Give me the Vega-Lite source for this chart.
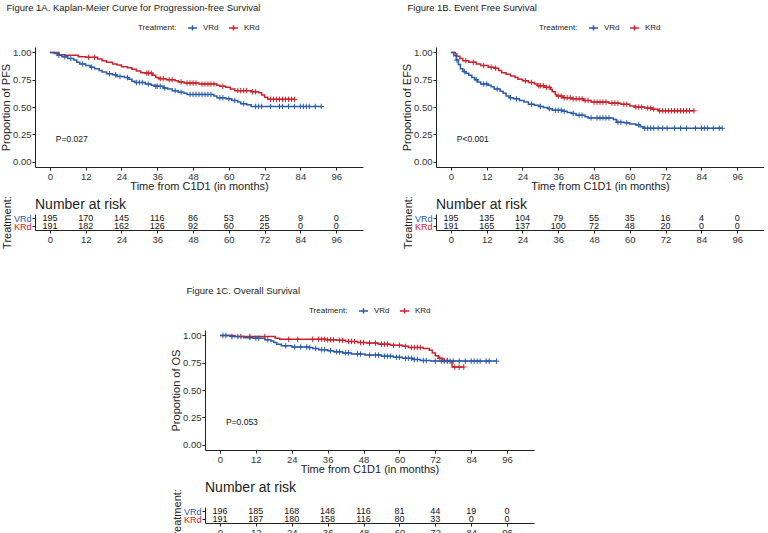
{
 "$schema": "https://vega.github.io/schema/vega-lite/v6.json",
 "padding": {"left": 0, "top": 2, "right": 0, "bottom": 0},
 "config": {
  "font": "Liberation Sans",
  "view": {"stroke": null},
  "axis": {"grid": false, "domainColor": "#222", "tickColor": "#222", "labelColor": "#333", "titleColor": "#222", "labelFontSize": 9.5, "titleFontSize": 11, "titleFontWeight": "normal", "tickSize": 3, "labelPadding": 1, "titlePadding": 1},
  "axisX": {"titlePadding": 0},
  "legend": {"orient": "top", "direction": "horizontal", "titleOrient": "left", "labelFontSize": 8, "titleFontSize": 8, "titleFontWeight": "normal", "titleColor": "#222", "labelColor": "#222", "symbolType": "M-1,0L1,0M0,-0.6L0,0.6", "symbolStrokeWidth": 1.5, "symbolSize": 81, "offset": 13, "titlePadding": 10, "labelOffset": 5, "columnPadding": 7, "layout": {"top": {"anchor": "middle"}}},
  "title": {"fontSize": 9.5, "fontWeight": "normal", "anchor": "start", "color": "#222", "offset": 10}
 },
 "datasets": {
  "pfs": [
   {"t":0,"s":1,"g":"KRd","c":0},{"t":3,"s":0.98,"g":"KRd","c":0},{"t":5,"s":0.975,"g":"KRd","c":0},{"t":9.5,"s":0.96,"g":"KRd","c":0},{"t":12,"s":0.955,"g":"KRd","c":0},{"t":13,"s":0.955,"g":"KRd","c":1},{"t":15,"s":0.955,"g":"KRd","c":1},
   {"t":16,"s":0.94,"g":"KRd","c":0},{"t":17.5,"s":0.925,"g":"KRd","c":0},{"t":19,"s":0.91,"g":"KRd","c":0},{"t":21,"s":0.895,"g":"KRd","c":0},{"t":22.5,"s":0.885,"g":"KRd","c":0},{"t":24,"s":0.87,"g":"KRd","c":0},{"t":26,"s":0.86,"g":"KRd","c":0},{"t":27.5,"s":0.845,"g":"KRd","c":0},{"t":29,"s":0.83,"g":"KRd","c":0},{"t":30.5,"s":0.815,"g":"KRd","c":0},
   {"t":32,"s":0.81,"g":"KRd","c":0},{"t":32.5,"s":0.81,"g":"KRd","c":1},{"t":33,"s":0.81,"g":"KRd","c":1},{"t":34,"s":0.81,"g":"KRd","c":1},{"t":34.5,"s":0.79,"g":"KRd","c":0},{"t":35.5,"s":0.77,"g":"KRd","c":0},{"t":36.5,"s":0.76,"g":"KRd","c":0},{"t":37,"s":0.76,"g":"KRd","c":1},{"t":38,"s":0.76,"g":"KRd","c":1},
   {"t":39,"s":0.75,"g":"KRd","c":0},{"t":40,"s":0.75,"g":"KRd","c":1},{"t":41,"s":0.75,"g":"KRd","c":1},{"t":42,"s":0.74,"g":"KRd","c":0},{"t":43,"s":0.73,"g":"KRd","c":0},{"t":44,"s":0.73,"g":"KRd","c":1},{"t":45,"s":0.72,"g":"KRd","c":0},{"t":46,"s":0.72,"g":"KRd","c":1},{"t":47,"s":0.72,"g":"KRd","c":1},{"t":48,"s":0.72,"g":"KRd","c":1},{"t":49,"s":0.72,"g":"KRd","c":1},
   {"t":50,"s":0.71,"g":"KRd","c":0},{"t":51,"s":0.71,"g":"KRd","c":1},{"t":52,"s":0.71,"g":"KRd","c":1},{"t":53,"s":0.71,"g":"KRd","c":1},{"t":54,"s":0.71,"g":"KRd","c":1},{"t":55,"s":0.71,"g":"KRd","c":1},{"t":56,"s":0.7,"g":"KRd","c":0},{"t":57,"s":0.69,"g":"KRd","c":0},{"t":58,"s":0.69,"g":"KRd","c":1},{"t":59,"s":0.68,"g":"KRd","c":0},{"t":60.5,"s":0.665,"g":"KRd","c":0},
   {"t":62,"s":0.65,"g":"KRd","c":0},{"t":63,"s":0.65,"g":"KRd","c":1},{"t":64,"s":0.65,"g":"KRd","c":1},{"t":65,"s":0.65,"g":"KRd","c":1},{"t":66,"s":0.65,"g":"KRd","c":1},{"t":67.5,"s":0.64,"g":"KRd","c":0},{"t":68,"s":0.64,"g":"KRd","c":1},{"t":69,"s":0.64,"g":"KRd","c":1},{"t":70,"s":0.63,"g":"KRd","c":0},{"t":71,"s":0.61,"g":"KRd","c":0},{"t":72,"s":0.59,"g":"KRd","c":0},
   {"t":73,"s":0.57,"g":"KRd","c":0},{"t":74,"s":0.57,"g":"KRd","c":1},{"t":75,"s":0.57,"g":"KRd","c":1},{"t":76,"s":0.57,"g":"KRd","c":1},{"t":77,"s":0.57,"g":"KRd","c":1},{"t":78,"s":0.57,"g":"KRd","c":1},{"t":79,"s":0.57,"g":"KRd","c":1},{"t":80,"s":0.57,"g":"KRd","c":1},{"t":81,"s":0.57,"g":"KRd","c":1},{"t":82,"s":0.57,"g":"KRd","c":1},
   {"t":0,"s":1,"g":"VRd","c":0},{"t":1.5,"s":0.99,"g":"VRd","c":0},{"t":2.5,"s":0.975,"g":"VRd","c":0},{"t":3,"s":0.975,"g":"VRd","c":1},{"t":4,"s":0.96,"g":"VRd","c":0},{"t":5,"s":0.96,"g":"VRd","c":1},{"t":6,"s":0.945,"g":"VRd","c":0},{"t":7,"s":0.945,"g":"VRd","c":1},{"t":8,"s":0.93,"g":"VRd","c":0},{"t":9,"s":0.91,"g":"VRd","c":0},{"t":10,"s":0.895,"g":"VRd","c":0},{"t":11,"s":0.895,"g":"VRd","c":1},
   {"t":12,"s":0.88,"g":"VRd","c":0},{"t":13.5,"s":0.865,"g":"VRd","c":0},{"t":14,"s":0.865,"g":"VRd","c":1},{"t":15,"s":0.85,"g":"VRd","c":0},{"t":16.5,"s":0.835,"g":"VRd","c":0},{"t":17.5,"s":0.82,"g":"VRd","c":0},{"t":19,"s":0.805,"g":"VRd","c":0},{"t":20,"s":0.805,"g":"VRd","c":1},{"t":21,"s":0.795,"g":"VRd","c":0},{"t":22,"s":0.795,"g":"VRd","c":1},
   {"t":22.5,"s":0.78,"g":"VRd","c":0},{"t":23.5,"s":0.78,"g":"VRd","c":1},{"t":25,"s":0.77,"g":"VRd","c":0},{"t":26,"s":0.77,"g":"VRd","c":1},{"t":26.5,"s":0.755,"g":"VRd","c":0},{"t":27.5,"s":0.735,"g":"VRd","c":0},{"t":28.5,"s":0.725,"g":"VRd","c":0},{"t":29,"s":0.725,"g":"VRd","c":1},{"t":30,"s":0.725,"g":"VRd","c":1},{"t":31,"s":0.725,"g":"VRd","c":1},
   {"t":32,"s":0.71,"g":"VRd","c":0},{"t":33,"s":0.71,"g":"VRd","c":1},{"t":34,"s":0.7,"g":"VRd","c":0},{"t":35,"s":0.69,"g":"VRd","c":0},{"t":35.5,"s":0.69,"g":"VRd","c":1},{"t":36,"s":0.69,"g":"VRd","c":1},{"t":37,"s":0.69,"g":"VRd","c":1},{"t":38,"s":0.675,"g":"VRd","c":0},{"t":38.5,"s":0.675,"g":"VRd","c":1},{"t":39.5,"s":0.665,"g":"VRd","c":0},
   {"t":41,"s":0.65,"g":"VRd","c":0},{"t":42,"s":0.65,"g":"VRd","c":1},{"t":43,"s":0.635,"g":"VRd","c":0},{"t":44,"s":0.635,"g":"VRd","c":1},{"t":45,"s":0.625,"g":"VRd","c":0},{"t":46,"s":0.615,"g":"VRd","c":0},{"t":47,"s":0.615,"g":"VRd","c":1},{"t":48,"s":0.615,"g":"VRd","c":1},{"t":49,"s":0.615,"g":"VRd","c":1},{"t":50,"s":0.615,"g":"VRd","c":1},{"t":51,"s":0.615,"g":"VRd","c":1},{"t":52,"s":0.615,"g":"VRd","c":1},{"t":53,"s":0.615,"g":"VRd","c":1},{"t":54,"s":0.615,"g":"VRd","c":1},
   {"t":55,"s":0.6,"g":"VRd","c":0},{"t":56,"s":0.585,"g":"VRd","c":0},{"t":57,"s":0.585,"g":"VRd","c":1},{"t":58,"s":0.585,"g":"VRd","c":1},{"t":59,"s":0.575,"g":"VRd","c":0},{"t":60,"s":0.575,"g":"VRd","c":1},{"t":61,"s":0.56,"g":"VRd","c":0},{"t":62,"s":0.56,"g":"VRd","c":1},{"t":63,"s":0.545,"g":"VRd","c":0},{"t":64,"s":0.53,"g":"VRd","c":0},{"t":65,"s":0.53,"g":"VRd","c":1},{"t":66,"s":0.52,"g":"VRd","c":0},
   {"t":67.5,"s":0.505,"g":"VRd","c":0},{"t":69,"s":0.505,"g":"VRd","c":1},{"t":70,"s":0.505,"g":"VRd","c":1},{"t":71,"s":0.505,"g":"VRd","c":1},{"t":74,"s":0.505,"g":"VRd","c":1},{"t":77,"s":0.505,"g":"VRd","c":1},{"t":78,"s":0.505,"g":"VRd","c":1},{"t":80,"s":0.505,"g":"VRd","c":1},{"t":82,"s":0.505,"g":"VRd","c":1},{"t":84,"s":0.505,"g":"VRd","c":1},{"t":85,"s":0.505,"g":"VRd","c":1},{"t":86,"s":0.505,"g":"VRd","c":1},{"t":87,"s":0.505,"g":"VRd","c":1},{"t":89,"s":0.505,"g":"VRd","c":1},{"t":91,"s":0.505,"g":"VRd","c":1}
  ],
  "efs": [
   {"t":0,"s":1,"g":"KRd","c":0},{"t":1.5,"s":0.985,"g":"KRd","c":0},{"t":2,"s":0.965,"g":"KRd","c":0},{"t":3,"s":0.945,"g":"KRd","c":0},{"t":4,"s":0.925,"g":"KRd","c":0},{"t":5,"s":0.925,"g":"KRd","c":1},{"t":6,"s":0.91,"g":"KRd","c":0},{"t":7.5,"s":0.91,"g":"KRd","c":1},{"t":8.5,"s":0.895,"g":"KRd","c":0},{"t":10,"s":0.88,"g":"KRd","c":0},{"t":11,"s":0.88,"g":"KRd","c":1},
   {"t":12.5,"s":0.865,"g":"KRd","c":0},{"t":13.5,"s":0.865,"g":"KRd","c":1},{"t":14.5,"s":0.855,"g":"KRd","c":0},{"t":15,"s":0.855,"g":"KRd","c":1},{"t":16,"s":0.835,"g":"KRd","c":0},{"t":17,"s":0.815,"g":"KRd","c":0},{"t":18.5,"s":0.8,"g":"KRd","c":0},{"t":20,"s":0.785,"g":"KRd","c":0},{"t":21.5,"s":0.77,"g":"KRd","c":0},{"t":22.5,"s":0.755,"g":"KRd","c":0},
   {"t":24,"s":0.74,"g":"KRd","c":0},{"t":25,"s":0.74,"g":"KRd","c":1},{"t":26,"s":0.725,"g":"KRd","c":0},{"t":27,"s":0.725,"g":"KRd","c":1},{"t":28,"s":0.71,"g":"KRd","c":0},{"t":29,"s":0.695,"g":"KRd","c":0},{"t":29.5,"s":0.695,"g":"KRd","c":1},{"t":30,"s":0.695,"g":"KRd","c":1},{"t":31,"s":0.695,"g":"KRd","c":1},{"t":31.5,"s":0.68,"g":"KRd","c":0},{"t":32,"s":0.68,"g":"KRd","c":1},{"t":33,"s":0.68,"g":"KRd","c":1},
   {"t":33.5,"s":0.66,"g":"KRd","c":0},{"t":34,"s":0.64,"g":"KRd","c":0},{"t":35,"s":0.615,"g":"KRd","c":0},{"t":35.5,"s":0.6,"g":"KRd","c":0},{"t":36,"s":0.6,"g":"KRd","c":1},{"t":37,"s":0.6,"g":"KRd","c":1},{"t":37.5,"s":0.585,"g":"KRd","c":0},{"t":38,"s":0.585,"g":"KRd","c":1},{"t":39,"s":0.585,"g":"KRd","c":1},{"t":40,"s":0.585,"g":"KRd","c":1},
   {"t":40.5,"s":0.575,"g":"KRd","c":0},{"t":41,"s":0.575,"g":"KRd","c":1},{"t":42,"s":0.575,"g":"KRd","c":1},{"t":43,"s":0.575,"g":"KRd","c":1},{"t":44,"s":0.575,"g":"KRd","c":1},{"t":44.5,"s":0.56,"g":"KRd","c":0},{"t":45,"s":0.56,"g":"KRd","c":1},{"t":46,"s":0.56,"g":"KRd","c":1},
   {"t":47,"s":0.545,"g":"KRd","c":0},{"t":48,"s":0.545,"g":"KRd","c":1},{"t":49,"s":0.545,"g":"KRd","c":1},{"t":50,"s":0.545,"g":"KRd","c":1},{"t":51,"s":0.545,"g":"KRd","c":1},{"t":52,"s":0.545,"g":"KRd","c":1},{"t":53,"s":0.535,"g":"KRd","c":0},{"t":54,"s":0.535,"g":"KRd","c":1},{"t":55,"s":0.535,"g":"KRd","c":1},{"t":56,"s":0.535,"g":"KRd","c":1},
   {"t":57,"s":0.525,"g":"KRd","c":0},{"t":58,"s":0.525,"g":"KRd","c":1},{"t":59,"s":0.525,"g":"KRd","c":1},{"t":60,"s":0.51,"g":"KRd","c":0},{"t":61.5,"s":0.5,"g":"KRd","c":0},{"t":62,"s":0.5,"g":"KRd","c":1},{"t":63,"s":0.5,"g":"KRd","c":1},{"t":64,"s":0.5,"g":"KRd","c":1},{"t":65,"s":0.49,"g":"KRd","c":0},{"t":66,"s":0.49,"g":"KRd","c":1},{"t":67,"s":0.49,"g":"KRd","c":1},
   {"t":67.5,"s":0.48,"g":"KRd","c":0},{"t":68,"s":0.48,"g":"KRd","c":1},{"t":69.5,"s":0.465,"g":"KRd","c":0},{"t":70,"s":0.465,"g":"KRd","c":1},{"t":71,"s":0.465,"g":"KRd","c":1},{"t":72,"s":0.465,"g":"KRd","c":1},{"t":73,"s":0.465,"g":"KRd","c":1},{"t":74,"s":0.465,"g":"KRd","c":1},{"t":75,"s":0.465,"g":"KRd","c":1},{"t":76,"s":0.465,"g":"KRd","c":1},{"t":77,"s":0.465,"g":"KRd","c":1},{"t":78,"s":0.465,"g":"KRd","c":1},{"t":79,"s":0.465,"g":"KRd","c":1},{"t":80,"s":0.465,"g":"KRd","c":1},{"t":81.5,"s":0.465,"g":"KRd","c":1},
   {"t":0,"s":1,"g":"VRd","c":0},{"t":1,"s":0.97,"g":"VRd","c":0},{"t":1.8,"s":0.93,"g":"VRd","c":0},{"t":2,"s":0.93,"g":"VRd","c":1},{"t":2.5,"s":0.89,"g":"VRd","c":0},{"t":3.2,"s":0.85,"g":"VRd","c":0},{"t":4,"s":0.825,"g":"VRd","c":0},{"t":4.5,"s":0.825,"g":"VRd","c":1},{"t":5,"s":0.81,"g":"VRd","c":0},{"t":6,"s":0.79,"g":"VRd","c":0},{"t":7,"s":0.77,"g":"VRd","c":0},
   {"t":8,"s":0.75,"g":"VRd","c":0},{"t":8.5,"s":0.75,"g":"VRd","c":1},{"t":9,"s":0.73,"g":"VRd","c":0},{"t":10,"s":0.71,"g":"VRd","c":0},{"t":11,"s":0.71,"g":"VRd","c":1},{"t":12,"s":0.71,"g":"VRd","c":1},{"t":12.5,"s":0.7,"g":"VRd","c":0},{"t":13.5,"s":0.685,"g":"VRd","c":0},{"t":14.5,"s":0.665,"g":"VRd","c":0},{"t":15.5,"s":0.665,"g":"VRd","c":1},
   {"t":16.5,"s":0.645,"g":"VRd","c":0},{"t":17.5,"s":0.625,"g":"VRd","c":0},{"t":18.5,"s":0.6,"g":"VRd","c":0},{"t":19.5,"s":0.585,"g":"VRd","c":0},{"t":20,"s":0.585,"g":"VRd","c":1},{"t":21,"s":0.575,"g":"VRd","c":0},{"t":22,"s":0.575,"g":"VRd","c":1},{"t":23,"s":0.56,"g":"VRd","c":0},{"t":24.5,"s":0.545,"g":"VRd","c":0},
   {"t":26,"s":0.525,"g":"VRd","c":0},{"t":27,"s":0.525,"g":"VRd","c":1},{"t":28,"s":0.515,"g":"VRd","c":0},{"t":29.5,"s":0.505,"g":"VRd","c":0},{"t":30,"s":0.505,"g":"VRd","c":1},{"t":31,"s":0.495,"g":"VRd","c":0},{"t":32.5,"s":0.485,"g":"VRd","c":0},{"t":33,"s":0.485,"g":"VRd","c":1},{"t":34,"s":0.47,"g":"VRd","c":0},{"t":35,"s":0.47,"g":"VRd","c":1},{"t":36,"s":0.47,"g":"VRd","c":1},{"t":37,"s":0.47,"g":"VRd","c":1},
   {"t":37.5,"s":0.46,"g":"VRd","c":0},{"t":38,"s":0.46,"g":"VRd","c":1},{"t":39,"s":0.45,"g":"VRd","c":0},{"t":40.5,"s":0.44,"g":"VRd","c":0},{"t":41,"s":0.44,"g":"VRd","c":1},{"t":42,"s":0.425,"g":"VRd","c":0},{"t":43,"s":0.425,"g":"VRd","c":1},{"t":44,"s":0.425,"g":"VRd","c":1},{"t":45,"s":0.41,"g":"VRd","c":0},
   {"t":46,"s":0.4,"g":"VRd","c":0},{"t":47,"s":0.4,"g":"VRd","c":1},{"t":49,"s":0.4,"g":"VRd","c":1},{"t":50,"s":0.4,"g":"VRd","c":1},{"t":51,"s":0.4,"g":"VRd","c":1},{"t":52,"s":0.4,"g":"VRd","c":1},{"t":53,"s":0.4,"g":"VRd","c":1},{"t":54.5,"s":0.385,"g":"VRd","c":0},{"t":55.5,"s":0.36,"g":"VRd","c":0},{"t":56,"s":0.36,"g":"VRd","c":1},{"t":57,"s":0.36,"g":"VRd","c":1},
   {"t":58,"s":0.355,"g":"VRd","c":0},{"t":59,"s":0.355,"g":"VRd","c":1},{"t":60,"s":0.345,"g":"VRd","c":0},{"t":62,"s":0.335,"g":"VRd","c":0},{"t":63,"s":0.335,"g":"VRd","c":1},{"t":63.5,"s":0.32,"g":"VRd","c":0},{"t":64.5,"s":0.305,"g":"VRd","c":0},{"t":65,"s":0.305,"g":"VRd","c":1},{"t":66,"s":0.305,"g":"VRd","c":1},{"t":67,"s":0.305,"g":"VRd","c":1},{"t":68,"s":0.305,"g":"VRd","c":1},
   {"t":69.5,"s":0.305,"g":"VRd","c":1},{"t":71,"s":0.305,"g":"VRd","c":1},{"t":72.5,"s":0.305,"g":"VRd","c":1},{"t":75,"s":0.305,"g":"VRd","c":1},{"t":77,"s":0.305,"g":"VRd","c":1},{"t":79,"s":0.305,"g":"VRd","c":1},{"t":82,"s":0.305,"g":"VRd","c":1},{"t":84,"s":0.305,"g":"VRd","c":1},{"t":85,"s":0.305,"g":"VRd","c":1},{"t":86,"s":0.305,"g":"VRd","c":1},{"t":88,"s":0.305,"g":"VRd","c":1},{"t":90,"s":0.305,"g":"VRd","c":1},{"t":91,"s":0.305,"g":"VRd","c":1}
  ],
  "os": [
   {"t":0,"s":1,"g":"KRd","c":0},{"t":5,"s":0.99,"g":"KRd","c":0},{"t":7,"s":0.99,"g":"KRd","c":1},{"t":10,"s":0.99,"g":"KRd","c":1},{"t":15,"s":0.99,"g":"KRd","c":1},{"t":18.5,"s":0.975,"g":"KRd","c":0},{"t":20,"s":0.965,"g":"KRd","c":0},{"t":23,"s":0.965,"g":"KRd","c":1},{"t":26,"s":0.965,"g":"KRd","c":1},{"t":31,"s":0.965,"g":"KRd","c":1},{"t":33,"s":0.965,"g":"KRd","c":1},{"t":34,"s":0.965,"g":"KRd","c":1},{"t":35,"s":0.965,"g":"KRd","c":1},
   {"t":35.5,"s":0.96,"g":"KRd","c":0},{"t":36,"s":0.96,"g":"KRd","c":1},{"t":37,"s":0.96,"g":"KRd","c":1},{"t":38,"s":0.96,"g":"KRd","c":1},{"t":39,"s":0.955,"g":"KRd","c":0},{"t":40,"s":0.955,"g":"KRd","c":1},{"t":41,"s":0.955,"g":"KRd","c":1},{"t":42,"s":0.945,"g":"KRd","c":0},{"t":43,"s":0.945,"g":"KRd","c":1},{"t":44,"s":0.945,"g":"KRd","c":1},{"t":45,"s":0.945,"g":"KRd","c":1},
   {"t":46,"s":0.935,"g":"KRd","c":0},{"t":47,"s":0.935,"g":"KRd","c":1},{"t":48,"s":0.935,"g":"KRd","c":1},{"t":49,"s":0.93,"g":"KRd","c":0},{"t":50,"s":0.93,"g":"KRd","c":1},{"t":52,"s":0.93,"g":"KRd","c":1},{"t":53,"s":0.92,"g":"KRd","c":0},{"t":54,"s":0.92,"g":"KRd","c":1},{"t":55,"s":0.92,"g":"KRd","c":1},{"t":56,"s":0.92,"g":"KRd","c":1},
   {"t":57,"s":0.91,"g":"KRd","c":0},{"t":58,"s":0.91,"g":"KRd","c":1},{"t":60,"s":0.91,"g":"KRd","c":1},{"t":61,"s":0.9,"g":"KRd","c":0},{"t":62,"s":0.9,"g":"KRd","c":1},{"t":63,"s":0.89,"g":"KRd","c":0},{"t":64,"s":0.89,"g":"KRd","c":1},{"t":65,"s":0.89,"g":"KRd","c":1},{"t":66,"s":0.89,"g":"KRd","c":1},{"t":67,"s":0.89,"g":"KRd","c":1},
   {"t":68,"s":0.88,"g":"KRd","c":0},{"t":70,"s":0.865,"g":"KRd","c":0},{"t":71,"s":0.84,"g":"KRd","c":0},{"t":72,"s":0.815,"g":"KRd","c":0},{"t":73,"s":0.79,"g":"KRd","c":0},{"t":73.5,"s":0.79,"g":"KRd","c":1},{"t":74.5,"s":0.77,"g":"KRd","c":0},{"t":75,"s":0.77,"g":"KRd","c":1},{"t":76,"s":0.77,"g":"KRd","c":1},{"t":77,"s":0.76,"g":"KRd","c":0},
   {"t":77.6,"s":0.71,"g":"KRd","c":0},{"t":78.5,"s":0.71,"g":"KRd","c":1},{"t":80,"s":0.71,"g":"KRd","c":1},{"t":81.5,"s":0.71,"g":"KRd","c":1},
   {"t":0,"s":1,"g":"VRd","c":0},{"t":1,"s":1,"g":"VRd","c":1},{"t":2,"s":1,"g":"VRd","c":1},{"t":3.5,"s":0.99,"g":"VRd","c":0},{"t":4,"s":0.99,"g":"VRd","c":1},{"t":6,"s":0.99,"g":"VRd","c":1},{"t":8,"s":0.98,"g":"VRd","c":0},{"t":10,"s":0.98,"g":"VRd","c":1},{"t":11,"s":0.975,"g":"VRd","c":0},{"t":12,"s":0.975,"g":"VRd","c":1},{"t":13,"s":0.975,"g":"VRd","c":1},
   {"t":15,"s":0.96,"g":"VRd","c":0},{"t":16,"s":0.96,"g":"VRd","c":1},{"t":17,"s":0.95,"g":"VRd","c":0},{"t":18,"s":0.935,"g":"VRd","c":0},{"t":19,"s":0.92,"g":"VRd","c":0},{"t":20.5,"s":0.905,"g":"VRd","c":0},{"t":22,"s":0.905,"g":"VRd","c":1},{"t":24,"s":0.895,"g":"VRd","c":0},{"t":25,"s":0.895,"g":"VRd","c":1},{"t":27,"s":0.895,"g":"VRd","c":1},{"t":29,"s":0.895,"g":"VRd","c":1},
   {"t":29.5,"s":0.89,"g":"VRd","c":0},{"t":30,"s":0.89,"g":"VRd","c":1},{"t":31,"s":0.88,"g":"VRd","c":0},{"t":32,"s":0.88,"g":"VRd","c":1},{"t":33,"s":0.87,"g":"VRd","c":0},{"t":34,"s":0.87,"g":"VRd","c":1},{"t":35,"s":0.87,"g":"VRd","c":1},{"t":36,"s":0.86,"g":"VRd","c":0},{"t":37,"s":0.86,"g":"VRd","c":1},
   {"t":38,"s":0.85,"g":"VRd","c":0},{"t":39,"s":0.85,"g":"VRd","c":1},{"t":40,"s":0.85,"g":"VRd","c":1},{"t":41,"s":0.84,"g":"VRd","c":0},{"t":42,"s":0.84,"g":"VRd","c":1},{"t":43,"s":0.84,"g":"VRd","c":1},{"t":44,"s":0.83,"g":"VRd","c":0},{"t":46,"s":0.83,"g":"VRd","c":1},{"t":47,"s":0.83,"g":"VRd","c":1},
   {"t":48.5,"s":0.82,"g":"VRd","c":0},{"t":50,"s":0.82,"g":"VRd","c":1},{"t":52,"s":0.82,"g":"VRd","c":1},{"t":53,"s":0.82,"g":"VRd","c":1},{"t":54,"s":0.81,"g":"VRd","c":0},{"t":55,"s":0.81,"g":"VRd","c":1},{"t":56,"s":0.81,"g":"VRd","c":1},{"t":57,"s":0.81,"g":"VRd","c":1},
   {"t":58,"s":0.8,"g":"VRd","c":0},{"t":59,"s":0.8,"g":"VRd","c":1},{"t":60,"s":0.8,"g":"VRd","c":1},{"t":61,"s":0.79,"g":"VRd","c":0},{"t":62,"s":0.79,"g":"VRd","c":1},{"t":63,"s":0.79,"g":"VRd","c":1},{"t":64,"s":0.79,"g":"VRd","c":1},{"t":64.5,"s":0.78,"g":"VRd","c":0},{"t":65,"s":0.78,"g":"VRd","c":1},{"t":66,"s":0.78,"g":"VRd","c":1},
   {"t":67,"s":0.77,"g":"VRd","c":0},{"t":68,"s":0.77,"g":"VRd","c":1},{"t":69,"s":0.77,"g":"VRd","c":1},{"t":70.5,"s":0.765,"g":"VRd","c":0},{"t":72,"s":0.765,"g":"VRd","c":1},{"t":74,"s":0.765,"g":"VRd","c":1},{"t":75,"s":0.765,"g":"VRd","c":1},{"t":76,"s":0.765,"g":"VRd","c":1},{"t":77,"s":0.765,"g":"VRd","c":1},{"t":78,"s":0.765,"g":"VRd","c":1},
   {"t":80,"s":0.765,"g":"VRd","c":1},{"t":82,"s":0.765,"g":"VRd","c":1},{"t":84,"s":0.765,"g":"VRd","c":1},{"t":85,"s":0.765,"g":"VRd","c":1},{"t":86,"s":0.765,"g":"VRd","c":1},{"t":87,"s":0.765,"g":"VRd","c":1},{"t":89,"s":0.765,"g":"VRd","c":1},{"t":90,"s":0.765,"g":"VRd","c":1},{"t":92.5,"s":0.765,"g":"VRd","c":1}
  ],
  "riskA": [
   {"t":0,"g":"VRd","n":195},{"t":12,"g":"VRd","n":170},{"t":24,"g":"VRd","n":145},{"t":36,"g":"VRd","n":116},{"t":48,"g":"VRd","n":86},{"t":60,"g":"VRd","n":53},{"t":72,"g":"VRd","n":25},{"t":84,"g":"VRd","n":9},{"t":96,"g":"VRd","n":0},
   {"t":0,"g":"KRd","n":191},{"t":12,"g":"KRd","n":182},{"t":24,"g":"KRd","n":162},{"t":36,"g":"KRd","n":126},{"t":48,"g":"KRd","n":92},{"t":60,"g":"KRd","n":60},{"t":72,"g":"KRd","n":25},{"t":84,"g":"KRd","n":0},{"t":96,"g":"KRd","n":0}
  ],
  "riskB": [
   {"t":0,"g":"VRd","n":195},{"t":12,"g":"VRd","n":135},{"t":24,"g":"VRd","n":104},{"t":36,"g":"VRd","n":79},{"t":48,"g":"VRd","n":55},{"t":60,"g":"VRd","n":35},{"t":72,"g":"VRd","n":16},{"t":84,"g":"VRd","n":4},{"t":96,"g":"VRd","n":0},
   {"t":0,"g":"KRd","n":191},{"t":12,"g":"KRd","n":165},{"t":24,"g":"KRd","n":137},{"t":36,"g":"KRd","n":100},{"t":48,"g":"KRd","n":72},{"t":60,"g":"KRd","n":48},{"t":72,"g":"KRd","n":20},{"t":84,"g":"KRd","n":0},{"t":96,"g":"KRd","n":0}
  ],
  "riskC": [
   {"t":0,"g":"VRd","n":196},{"t":12,"g":"VRd","n":185},{"t":24,"g":"VRd","n":168},{"t":36,"g":"VRd","n":146},{"t":48,"g":"VRd","n":116},{"t":60,"g":"VRd","n":81},{"t":72,"g":"VRd","n":44},{"t":84,"g":"VRd","n":19},{"t":96,"g":"VRd","n":0},
   {"t":0,"g":"KRd","n":191},{"t":12,"g":"KRd","n":187},{"t":24,"g":"KRd","n":180},{"t":36,"g":"KRd","n":158},{"t":48,"g":"KRd","n":116},{"t":60,"g":"KRd","n":80},{"t":72,"g":"KRd","n":33},{"t":84,"g":"KRd","n":0},{"t":96,"g":"KRd","n":0}
  ]
 },
 "resolve": {"scale": {"x": "independent", "y": "independent", "color": "independent"}},
 "spacing": 36,
 "vconcat": [
  {
   "hconcat": [
    {
     "spacing": 3,
     "resolve": {"scale": {"x": "independent", "y": "independent", "color": "independent"}},
     "vconcat": [
      {
       "width": 328, "height": 120,
       "title": {"text": "Figure 1A. Kaplan-Meier Curve for Progression-free Survival", "frame": "bounds", "dx": 6},
       "data": {"name": "pfs"},
       "encoding": {
        "x": {"field": "t", "type": "quantitative", "scale": {"domain": [-5, 105], "nice": false, "zero": false}, "axis": {"values": [0,12,24,36,48,60,72,84,96], "title": "Time from C1D1 (in months)"}},
        "y": {"field": "s", "type": "quantitative", "scale": {"domain": [-0.05, 1.05], "nice": false, "zero": false}, "axis": {"values": [0,0.25,0.5,0.75,1], "format": ".2f", "title": "Proportion of PFS"}}
       },
       "layer": [
        {"mark": {"type": "line", "interpolate": "step-after", "strokeWidth": 1.5}, "encoding": {"color": {"field": "g", "type": "nominal", "scale": {"domain": ["VRd", "KRd"], "range": ["#2A5CAA", "#C8232B"]}, "legend": {"title": "Treatment:"}}}},
        {"transform": [{"filter": "datum.c == 1"}], "mark": {"type": "point", "shape": "M-1,0L1,0M0,-1L0,1", "filled": false, "size": 30, "strokeWidth": 1, "opacity": 1}, "encoding": {"color": {"field": "g", "type": "nominal", "legend": null}}},
        {"data": {"values": [{"t": 2, "s": 0.21, "label": "P=0.027"}]}, "mark": {"type": "text", "align": "left", "fontSize": 8.5, "color": "#111"}, "encoding": {"text": {"field": "label"}}}
       ]
      },
      {
       "width": 328, "height": 16,
       "title": {"text": "Number at risk", "frame": "group", "fontSize": 14, "offset": -16},
       "data": {"name": "riskA"},
       "mark": {"type": "text", "fontSize": 9, "color": "#111"},
       "encoding": {
        "x": {"field": "t", "type": "quantitative", "scale": {"domain": [-5, 105], "nice": false, "zero": false}, "axis": {"values": [0,12,24,36,48,60,72,84,96], "title": null}},
        "y": {"field": "g", "type": "nominal", "sort": ["VRd", "KRd"], "scale": {"type": "point", "padding": 0.5}, "axis": {"title": "Treatment:", "labelFontSize": 9, "labelColor": {"condition": {"test": "datum.value === 'VRd'", "value": "#2A5CAA"}, "value": "#C8232B"}}},
        "text": {"field": "n", "type": "quantitative"}
       }
      }
     ]
    },
    {
     "spacing": 3,
     "resolve": {"scale": {"x": "independent", "y": "independent", "color": "independent"}},
     "vconcat": [
      {
       "width": 328, "height": 120,
       "title": {"text": "Figure 1B. Event Free Survival", "frame": "bounds", "dx": 6},
       "data": {"name": "efs"},
       "encoding": {
        "x": {"field": "t", "type": "quantitative", "scale": {"domain": [-5, 105], "nice": false, "zero": false}, "axis": {"values": [0,12,24,36,48,60,72,84,96], "title": "Time from C1D1 (in months)"}},
        "y": {"field": "s", "type": "quantitative", "scale": {"domain": [-0.05, 1.05], "nice": false, "zero": false}, "axis": {"values": [0,0.25,0.5,0.75,1], "format": ".2f", "title": "Proportion of EFS"}}
       },
       "layer": [
        {"mark": {"type": "line", "interpolate": "step-after", "strokeWidth": 1.5}, "encoding": {"color": {"field": "g", "type": "nominal", "scale": {"domain": ["VRd", "KRd"], "range": ["#2A5CAA", "#C8232B"]}, "legend": {"title": "Treatment:"}}}},
        {"transform": [{"filter": "datum.c == 1"}], "mark": {"type": "point", "shape": "M-1,0L1,0M0,-1L0,1", "filled": false, "size": 30, "strokeWidth": 1, "opacity": 1}, "encoding": {"color": {"field": "g", "type": "nominal", "legend": null}}},
        {"data": {"values": [{"t": 2, "s": 0.21, "label": "P<0.001"}]}, "mark": {"type": "text", "align": "left", "fontSize": 8.5, "color": "#111"}, "encoding": {"text": {"field": "label"}}}
       ]
      },
      {
       "width": 328, "height": 16,
       "title": {"text": "Number at risk", "frame": "group", "fontSize": 14, "offset": -16},
       "data": {"name": "riskB"},
       "mark": {"type": "text", "fontSize": 9, "color": "#111"},
       "encoding": {
        "x": {"field": "t", "type": "quantitative", "scale": {"domain": [-5, 105], "nice": false, "zero": false}, "axis": {"values": [0,12,24,36,48,60,72,84,96], "title": null}},
        "y": {"field": "g", "type": "nominal", "sort": ["VRd", "KRd"], "scale": {"type": "point", "padding": 0.5}, "axis": {"title": "Treatment:", "labelFontSize": 9, "labelColor": {"condition": {"test": "datum.value === 'VRd'", "value": "#2A5CAA"}, "value": "#C8232B"}}},
        "text": {"field": "n", "type": "quantitative"}
       }
      }
     ]
    }
   ],
   "spacing": 38,
   "resolve": {"scale": {"x": "independent", "y": "independent", "color": "independent"}}
  },
  {
   "spacing": 134,
   "resolve": {"scale": {"x": "independent", "y": "independent", "color": "independent"}},
   "hconcat": [
    {"width": 1, "height": 1, "data": {"values": []}, "mark": {"type": "point", "opacity": 0}},
    {
     "spacing": 5,
     "resolve": {"scale": {"x": "independent", "y": "independent", "color": "independent"}},
     "vconcat": [
      {
       "width": 329, "height": 120,
       "title": {"text": "Figure 1C. Overall Survival", "frame": "bounds", "dx": 16},
       "data": {"name": "os"},
       "encoding": {
        "x": {"field": "t", "type": "quantitative", "scale": {"domain": [-5, 105], "nice": false, "zero": false}, "axis": {"values": [0,12,24,36,48,60,72,84,96], "title": "Time from C1D1 (in months)"}},
        "y": {"field": "s", "type": "quantitative", "scale": {"domain": [-0.05, 1.05], "nice": false, "zero": false}, "axis": {"values": [0,0.25,0.5,0.75,1], "format": ".2f", "title": "Proportion of OS"}}
       },
       "layer": [
        {"mark": {"type": "line", "interpolate": "step-after", "strokeWidth": 1.5}, "encoding": {"color": {"field": "g", "type": "nominal", "scale": {"domain": ["VRd", "KRd"], "range": ["#2A5CAA", "#C8232B"]}, "legend": {"title": "Treatment:"}}}},
        {"transform": [{"filter": "datum.c == 1"}], "mark": {"type": "point", "shape": "M-1,0L1,0M0,-1L0,1", "filled": false, "size": 30, "strokeWidth": 1, "opacity": 1}, "encoding": {"color": {"field": "g", "type": "nominal", "legend": null}}},
        {"data": {"values": [{"t": 2, "s": 0.21, "label": "P=0.053"}]}, "mark": {"type": "text", "align": "left", "fontSize": 8.5, "color": "#111"}, "encoding": {"text": {"field": "label"}}}
       ]
      },
      {
       "width": 329, "height": 16,
       "title": {"text": "Number at risk", "frame": "group", "fontSize": 14, "offset": -6},
       "data": {"name": "riskC"},
       "mark": {"type": "text", "fontSize": 9, "color": "#111"},
       "encoding": {
        "x": {"field": "t", "type": "quantitative", "scale": {"domain": [-5, 105], "nice": false, "zero": false}, "axis": {"values": [0,12,24,36,48,60,72,84,96], "title": null}},
        "y": {"field": "g", "type": "nominal", "sort": ["VRd", "KRd"], "scale": {"type": "point", "padding": 0.5}, "axis": {"title": "Treatment:", "labelFontSize": 9, "labelColor": {"condition": {"test": "datum.value === 'VRd'", "value": "#2A5CAA"}, "value": "#C8232B"}}},
        "text": {"field": "n", "type": "quantitative"}
       }
      }
     ]
    }
   ]
  }
 ]
}
